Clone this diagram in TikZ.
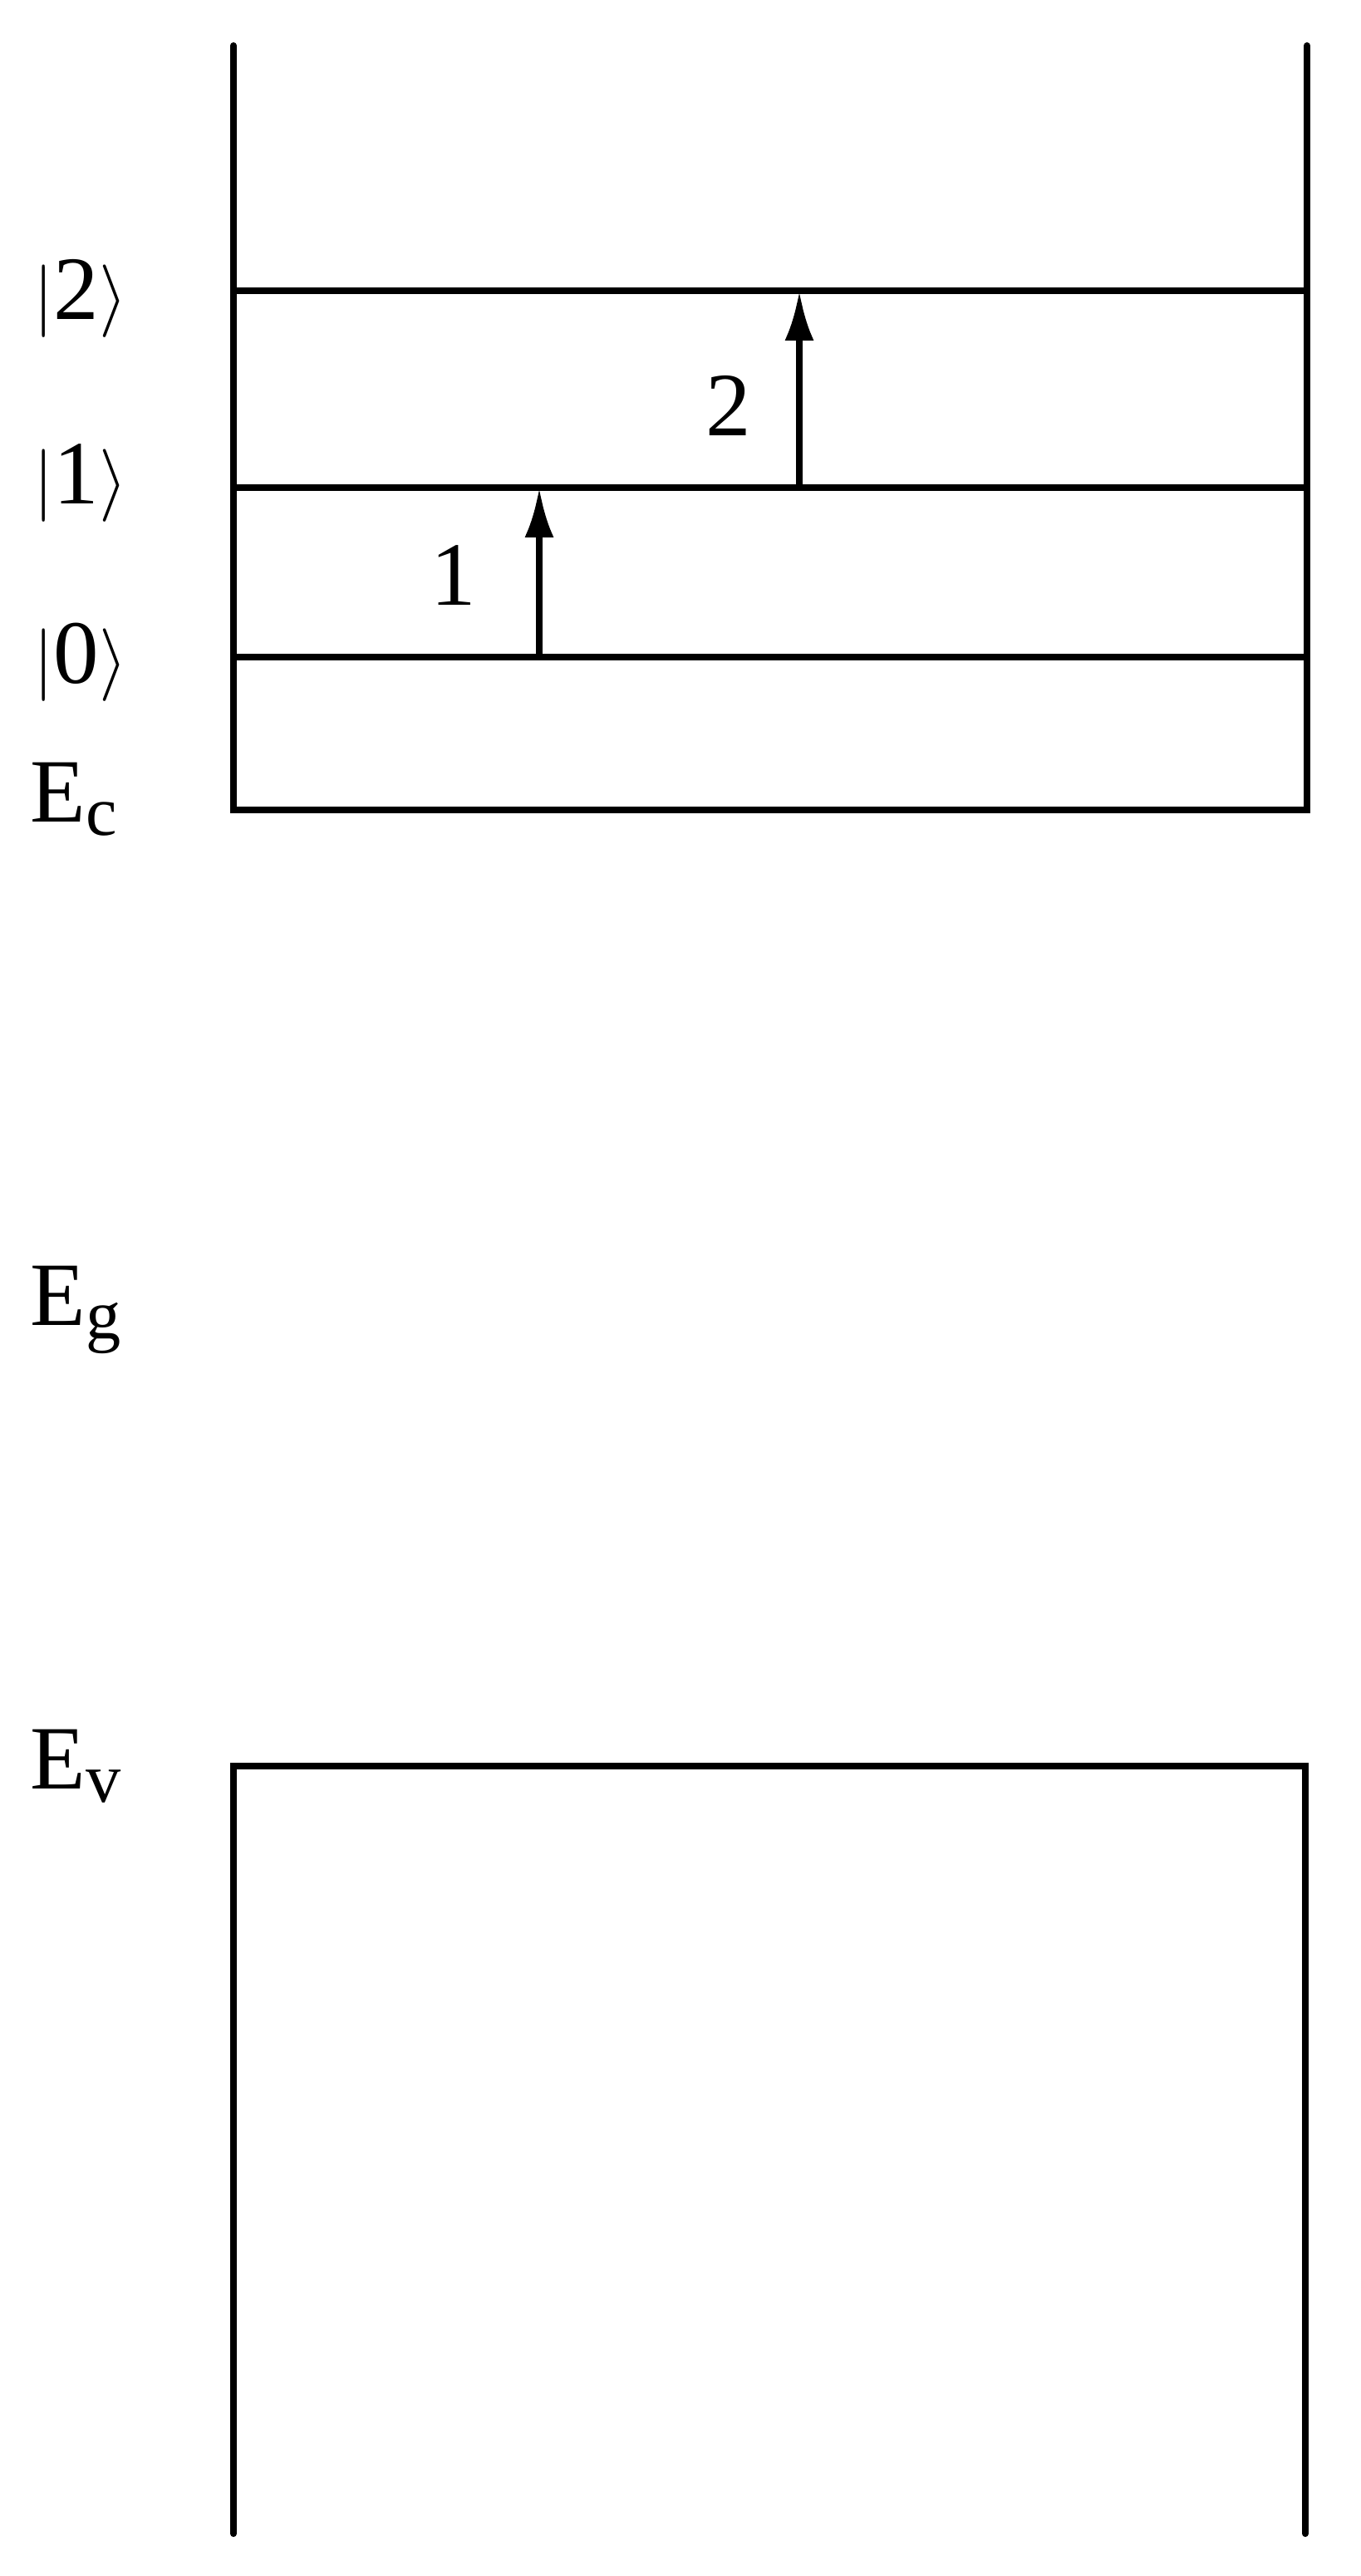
\documentclass[tikz,border=0pt]{standalone}
\usepackage{fontspec}
\setmainfont{Liberation Serif}
\usetikzlibrary{arrows.meta}

\newcommand{\lowsub}[1]{\raisebox{-0.16cm}{\fontsize{24}{28}\selectfont #1}}

\tikzset{
    band/.style={line width=2.3pt,line cap=round},
    level/.style={line width=2.3pt},
    jump/.style={line width=2.3pt,-{Latex[length=6mm,width=3.5mm]}},
    lab/.style={anchor=base west,inner sep=0pt,font=\fontsize{31}{37}\selectfont}
}

\begin{document}
\begin{tikzpicture}
        \useasboundingbox (0,0) rectangle (16.38,31.01);

        % conduction band
        \coordinate (cTL) at (2.81,30.46);
        \coordinate (cTR) at (15.73,30.46);
        \coordinate (cBL) at (2.81,21.26);
        \coordinate (cBR) at (15.73,21.26);
        \draw[band] (cTL) -- (cBL) -- (cBR) -- (cTR);

        % quantum levels
        \coordinate (l0L) at (2.81,23.10);
        \coordinate (l0R) at (15.73,23.10);
        \coordinate (l1L) at (2.81,25.14);
        \coordinate (l1R) at (15.73,25.14);
        \coordinate (l2L) at (2.81,27.51);
        \coordinate (l2R) at (15.73,27.51);
        \draw[level] (l0L) -- (l0R);
        \draw[level] (l1L) -- (l1R);
        \draw[level] (l2L) -- (l2R);

        % transitions
        \coordinate (t1s) at (6.49,23.10);
        \coordinate (t1e) at (6.49,25.14);
        \coordinate (t2s) at (9.62,25.14);
        \coordinate (t2e) at (9.62,27.51);
        \draw[jump] (t1s) -- (t1e);
        \draw[jump] (t2s) -- (t2e);
        \node[lab] (n1) at (5.18,23.72) {1};
        \node[lab] (n2) at (8.49,25.76) {2};

        % valence band
        \coordinate (vTL) at (2.81,9.75);
        \coordinate (vTR) at (15.71,9.75);
        \coordinate (vBL) at (2.81,0.51);
        \coordinate (vBR) at (15.71,0.51);
        \draw[band] (vBL) -- (vTL) -- (vTR) -- (vBR);

        % labels on the left
        \node[lab] (k2) at (0.40,27.16) {$|$2$\rangle$};
        \node[lab] (k1) at (0.40,24.94) {$|$1$\rangle$};
        \node[lab] (k0) at (0.40,22.78) {$|$0$\rangle$};
        \node[lab] (ec) at (0.36,21.11) {E\lowsub{c}};
        \node[lab] (eg) at (0.36,15.05) {E\lowsub{g}};
        \node[lab] (ev) at (0.36,9.47) {E\lowsub{v}};
    \end{tikzpicture}
\end{document}
